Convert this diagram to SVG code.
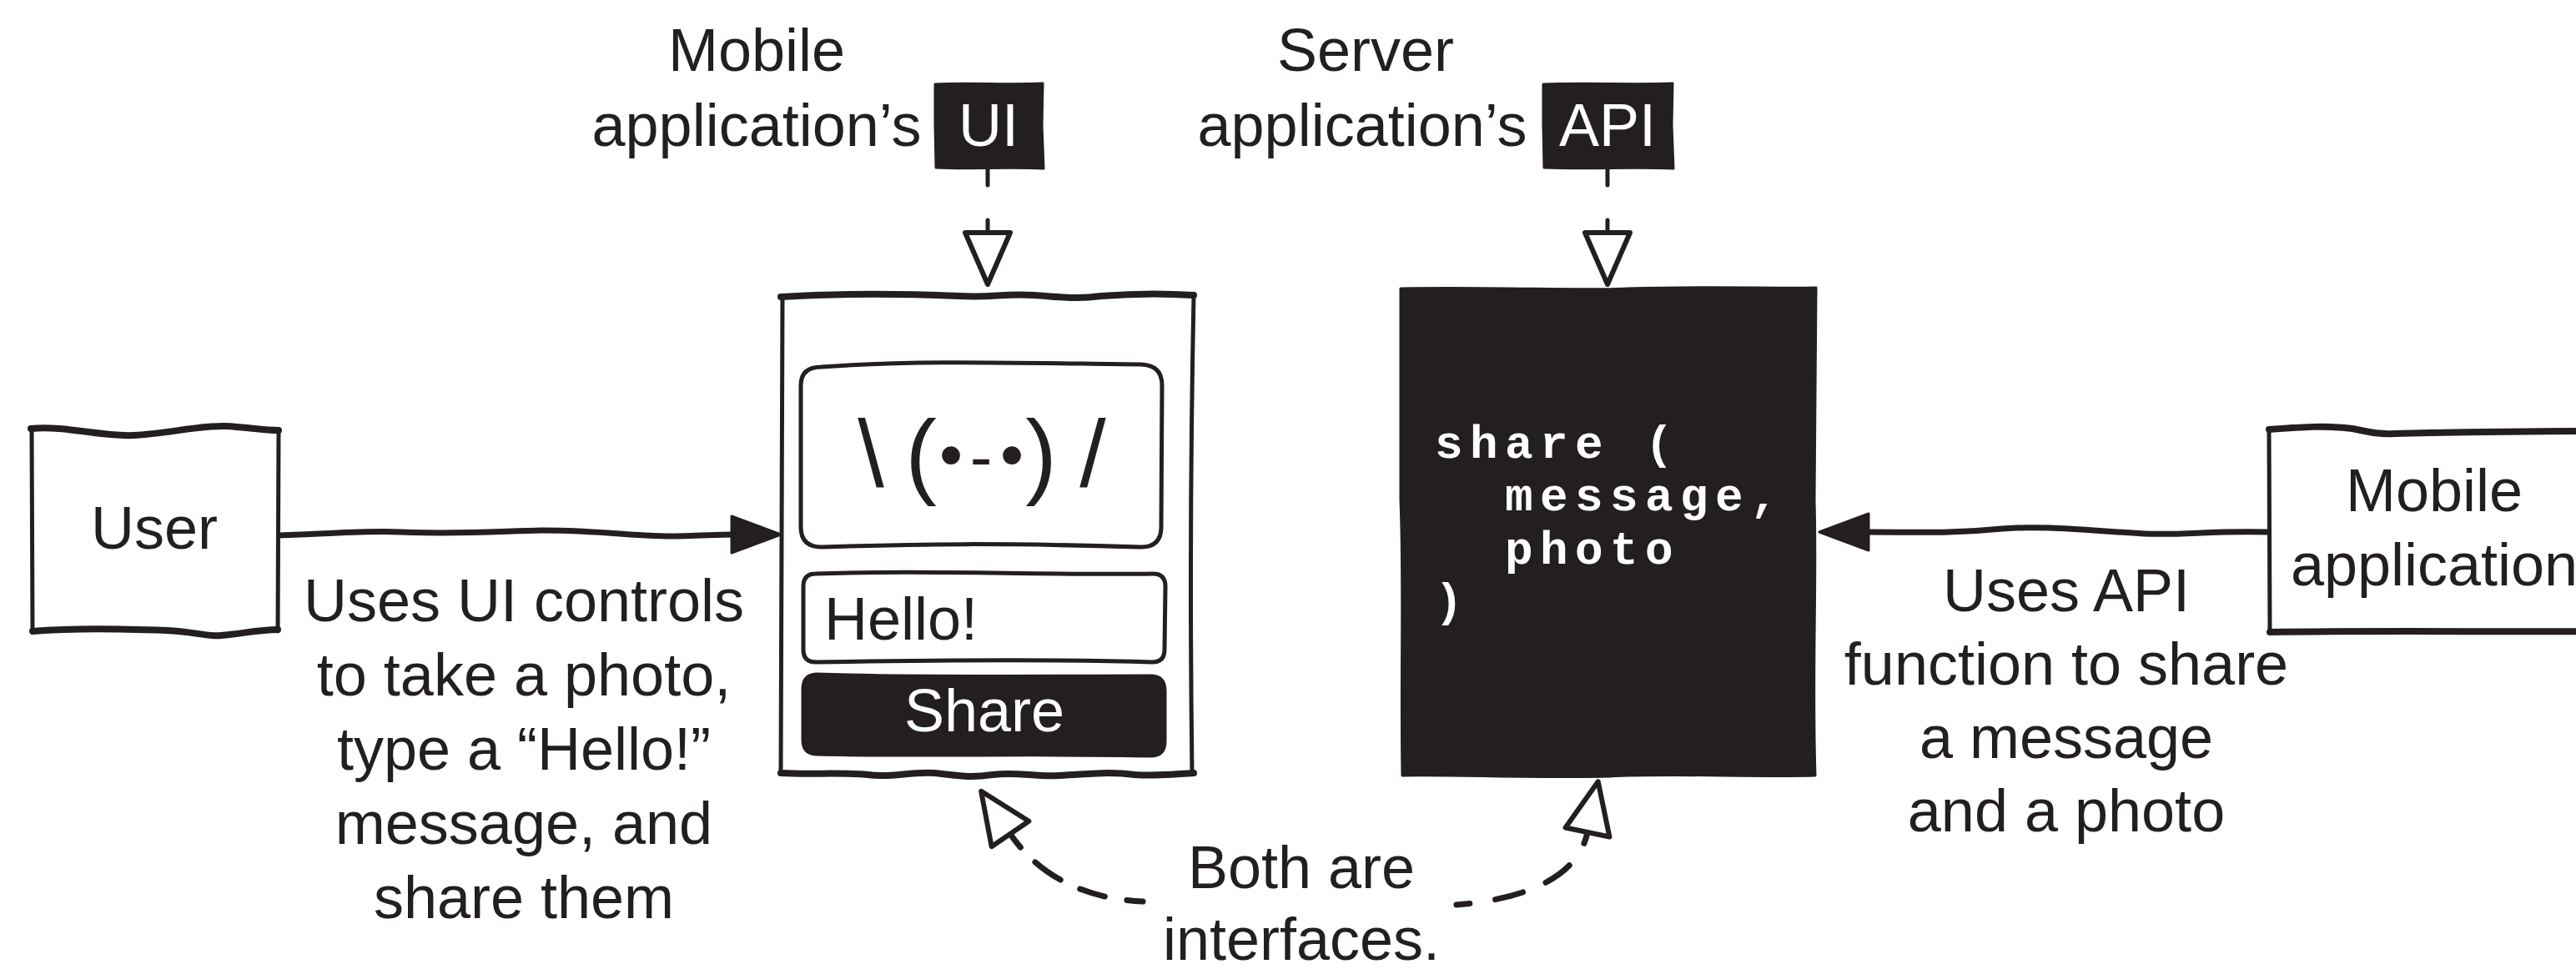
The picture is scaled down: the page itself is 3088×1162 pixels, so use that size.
<svg xmlns="http://www.w3.org/2000/svg" width="3088" height="1162" viewBox="0 0 3088 1162">
<style>
.t{font-family:"Liberation Sans",Arial,sans-serif;font-size:72px;fill:#231f20;text-anchor:middle}
.w{fill:#ffffff}
.code{font-family:"Liberation Mono","Courier New",monospace;font-weight:bold;font-size:56px;letter-spacing:8.4px;fill:#ffffff}
.ln{fill:none;stroke:#231f20;stroke-width:5;stroke-linecap:round;stroke-linejoin:round}
.hv{fill:none;stroke:#231f20;stroke-width:8;stroke-linecap:round;stroke-linejoin:round}
.dk{fill:#231f20;stroke:#231f20;stroke-width:3;stroke-linejoin:round}
.wire{fill:none;stroke:#231f20;stroke-width:7;stroke-linecap:butt}
.dash{fill:none;stroke:#231f20;stroke-width:7;stroke-linecap:round}
.sm{font-size:80px}
</style>
<defs>
<marker id="solid" markerUnits="userSpaceOnUse" viewBox="-2 -26 64 52" refX="0" refY="0" markerWidth="64" markerHeight="52" orient="auto" overflow="visible">
<path d="M0,-22 L59,0 L0,22 Z" fill="#231f20" stroke="#231f20" stroke-width="3" stroke-linejoin="round"/>
</marker>
<marker id="open" markerUnits="userSpaceOnUse" viewBox="-4 -32 72 64" refX="0" refY="0" markerWidth="72" markerHeight="64" orient="auto" overflow="visible">
<path d="M0,-27 L62,0 L0,27 Z" fill="#ffffff" stroke="#231f20" stroke-width="6" stroke-linejoin="round"/>
</marker>
</defs>
<rect width="3088" height="1162" fill="#ffffff"/>

<g id="connectors">
<path class="wire" d="M334,642 C400,640 440,636 480,638 C550,641 600,637 650,636 C720,636 760,643 800,643 C830,643 860,641 877,641" marker-end="url(#solid)"/>
<path class="wire" d="M2720,638 C2650,636 2620,642 2570,640 C2500,636 2450,630 2400,634 C2340,640 2300,638 2240,638" marker-end="url(#solid)"/>
<path class="ln" d="M1184,202 L1184,279" stroke-dasharray="20 42 40" marker-end="url(#open)"/>
<path class="ln" d="M1927,202 L1927,279" stroke-dasharray="20 42 40" marker-end="url(#open)"/>
<path class="dash" d="M1370,1081 C1300,1078 1245,1050 1211,1000" stroke-dasharray="19 27 31 26 37 25 40" marker-end="url(#open)"/>
<path class="dash" d="M1746,1085 C1810,1080 1890,1060 1903,998" stroke-dasharray="16 31 34 30 35 32 40" marker-end="url(#open)"/>
<g id="label-user-ui">
<text class="t" x="628" y="745">Uses UI controls</text>
<text class="t" x="628" y="834">to take a photo,</text>
<text class="t" x="628" y="923">type a “Hello!”</text>
<text class="t" x="628" y="1012">message, and</text>
<text class="t" x="628" y="1101">share them</text>
</g>
<g id="label-app-api">
<text class="t" x="2477" y="733">Uses API</text>
<text class="t" x="2477" y="821">function to share</text>
<text class="t" x="2477" y="909">a message</text>
<text class="t" x="2477" y="997">and a photo</text>
</g>
<g id="label-both">
<text class="t" x="1560" y="1065">Both are</text>
<text class="t" x="1560" y="1151">interfaces.</text>
</g>
</g>

<g id="user">
<path class="ln" d="M38,514 L39,757 M334,516 L333,757"/>
<path class="hv" d="M37,514 C80,510 120,524 160,522 C200,520 240,510 270,511 C295,512 315,516 334,516"/>
<path class="hv" d="M39,757 C90,753 140,754 200,756 C230,757 250,764 265,762 C290,760 310,755 333,755"/>
<text class="t" x="185" y="658">User</text>
</g>

<g id="ui-label">
<text class="t" x="907" y="85">Mobile</text>
<text class="t" x="907" y="175">application’s</text>
<path class="dk" d="M1121,101 C1160,99 1210,102 1250,100 L1249,150 L1251,202 C1210,200 1160,203 1122,201 L1121,150 Z"/>
<text class="t w" x="1185" y="175">UI</text>
</g>

<g id="api-label">
<text class="t" x="1637" y="85">Server</text>
<text class="t" x="1633" y="175">application’s</text>
<path class="dk" d="M1850,101 C1900,99 1960,102 2005,100 L2004,150 L2006,202 C1960,200 1900,203 1851,201 L1850,150 Z"/>
<text class="t w" x="1927" y="175">API</text>
</g>

<g id="phone-ui">
<path class="ln" d="M938,356 L936,927 M1431,354 C1428,500 1426,700 1429,927"/>
<path class="hv" d="M936,356 C1000,352 1080,352 1150,355 C1190,357 1200,352 1240,354 C1270,356 1290,359 1320,355 C1370,351 1400,352 1431,354"/>
<path class="hv" d="M936,927 C970,929 1010,926 1040,929 C1070,933 1090,925 1120,927 C1150,930 1160,933 1190,929 C1220,925 1240,932 1270,930 C1310,928 1330,925 1360,929 C1390,931 1410,928 1431,927"/>
<path class="ln" stroke-width="6" d="M985,440 C1100,432 1200,435 1368,437 Q1393,438 1393,462 L1392,632 Q1392,656 1368,656 C1200,651 1100,652 985,656 Q960,656 960,632 L960,462 Q960,440 985,440 Z"/>
<text class="t" style="font-size:113px" y="583"><tspan x="1044">\</tspan><tspan x="1104">(</tspan><tspan class="sm" x="1140" y="573">•</tspan><tspan class="sm" x="1176" y="575">-</tspan><tspan class="sm" x="1213" y="573">•</tspan><tspan x="1248" y="583">)</tspan><tspan x="1310">/</tspan></text>
<path class="ln" stroke-width="6" d="M978,688 C1100,683 1250,690 1382,688 Q1397,688 1397,703 L1396,779 Q1396,794 1381,794 C1250,790 1100,792 978,794 Q963,794 963,779 L963,703 Q963,688 978,688 Z"/>
<text class="t" style="text-anchor:start" x="988" y="767">Hello!</text>
<path class="dk" d="M980,808 C1100,812 1250,810 1379,810 Q1397,810 1397,828 L1397,889 Q1397,907 1379,907 C1250,904 1100,908 980,905 Q962,905 962,887 L962,826 Q962,808 980,808 Z"/>
<text class="t w" x="1180" y="877">Share</text>
</g>

<g id="server-api">
<path class="dk" d="M1679,346 C1800,344 1900,349 1950,346 C2050,343 2120,346 2177,345 L2175,600 C2178,700 2172,800 2176,930 C2100,932 2000,927 1930,931 C1850,933 1750,929 1681,930 C1679,800 1683,700 1679,600 Z"/>
<text class="code" x="1720" y="549">share (</text>
<text class="code" x="1804" y="612">message,</text>
<text class="code" x="1804" y="676">photo</text>
<text class="code" x="1720" y="738">)</text>
</g>

<g id="mobile-application">
<path class="ln" d="M2720,515 L2721,759"/>
<path class="hv" d="M2720,515 C2760,512 2790,510 2820,514 C2840,518 2850,521 2870,520 C2950,518 3050,517 3120,517"/>
<path class="hv" d="M2721,758 C2850,756 3000,758 3120,757"/>
<text class="t" x="2918" y="613">Mobile</text>
<text class="t" x="2918" y="702">application</text>
</g>
</svg>
